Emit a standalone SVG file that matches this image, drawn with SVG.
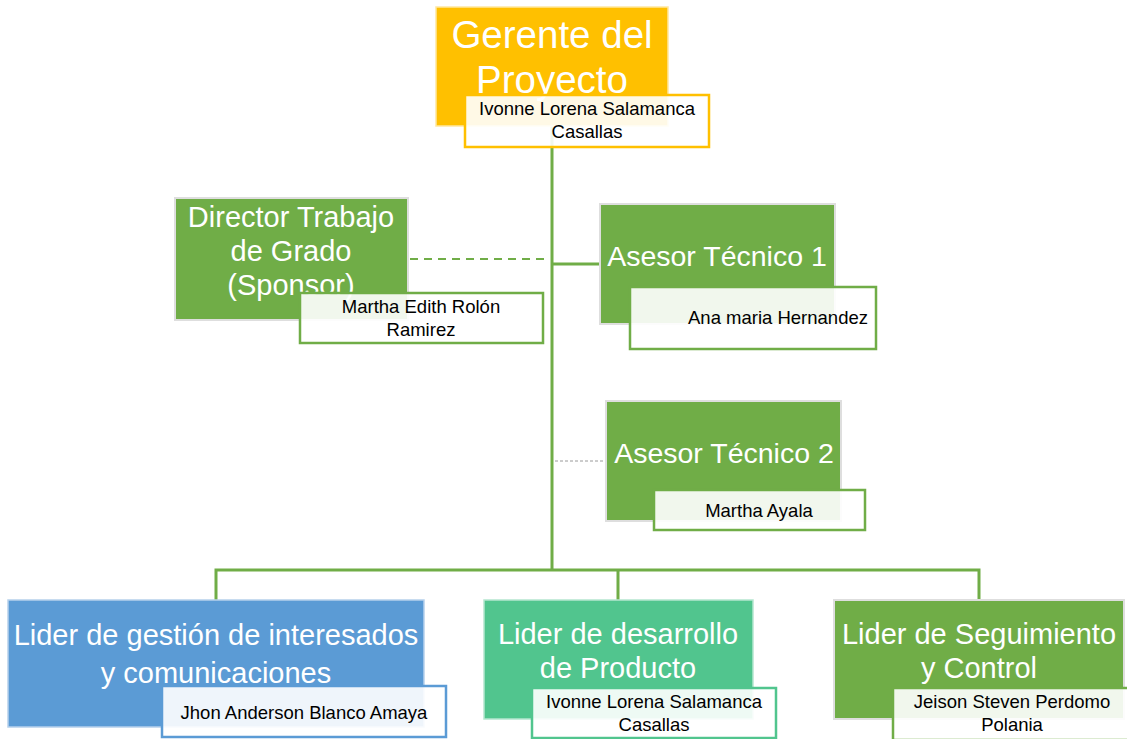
<svg xmlns="http://www.w3.org/2000/svg" width="1127" height="739" viewBox="0 0 1127 739">
<style>
.t{font-family:"Liberation Sans",Arial,sans-serif;fill:#fff;text-anchor:middle}
.n{font-family:"Liberation Sans",Arial,sans-serif;fill:#000;text-anchor:middle;font-size:18.5px}
.lbl{fill:#fff;fill-opacity:0.9;stroke-width:2.5}
.g{fill:#70AD47;stroke:#dedede;stroke-width:2}
.c{fill:none;stroke:#70AD47;stroke-width:3}
</style>
<rect width="1127" height="739" fill="#fff"/>
<g id="connectors">
<path class="c" d="M552 126V570M216 600V570H979V600M618 570V600M552 264H601"/>
<path d="M410 259H550" fill="none" stroke="#70AD47" stroke-width="2" stroke-dasharray="8 6"/>
<path d="M555 461H607" fill="none" stroke="#9a9a9a" stroke-width="1" stroke-dasharray="3 2"/>
</g>
<g id="gerente">
<rect x="436" y="7" width="232" height="119" fill="#FFC000" stroke="#ffe7a0" stroke-width="1.5"/>
<text class="t" x="552" y="48" font-size="38.5">Gerente del</text>
<text class="t" x="552" y="93" font-size="38.5">Proyecto</text>
<rect class="lbl" x="465" y="95" width="244" height="52" stroke="#FFC000"/>
<text class="n" x="587" y="115">Ivonne Lorena Salamanca</text>
<text class="n" x="587" y="138">Casallas</text>
</g>
<g id="director">
<rect class="g" x="175" y="198" width="233" height="122"/>
<text class="t" x="291" y="227" font-size="29">Director Trabajo</text>
<text class="t" x="291" y="261" font-size="29">de Grado</text>
<text class="t" x="291" y="295" font-size="29">(Sponsor)</text>
<rect class="lbl" x="300" y="293" width="243" height="50" stroke="#70AD47"/>
<text class="n" x="421" y="313">Martha Edith Rolón</text>
<text class="n" x="421" y="336">Ramirez</text>
</g>
<g id="asesor1">
<rect class="g" x="600" y="204" width="235" height="120"/>
<text class="t" x="717" y="266" font-size="28.5">Asesor Técnico 1</text>
<rect class="lbl" x="630" y="287" width="246" height="62" stroke="#70AD47"/>
<text class="n" x="778" y="324">Ana maria Hernandez</text>
</g>
<g id="asesor2">
<rect class="g" x="606" y="401" width="235" height="120"/>
<text class="t" x="724" y="463" font-size="28.5">Asesor Técnico 2</text>
<rect class="lbl" x="654" y="490" width="211" height="40" stroke="#70AD47"/>
<text class="n" x="759" y="517">Martha Ayala</text>
</g>
<g id="lider-gestion">
<rect x="8" y="600" width="416" height="127" fill="#5B9BD5" stroke="#b6d1ec" stroke-width="1.5"/>
<text class="t" x="216" y="645" font-size="29">Lider de gestión de interesados</text>
<text class="t" x="216" y="683" font-size="29">y comunicaciones</text>
<rect class="lbl" x="162" y="686" width="284" height="51" stroke="#5B9BD5"/>
<text class="n" x="304" y="719">Jhon Anderson Blanco Amaya</text>
</g>
<g id="lider-desarrollo">
<rect x="484" y="600" width="269" height="119" fill="#51C58E" stroke="#b5e6cf" stroke-width="1.5"/>
<text class="t" x="618" y="644" font-size="29">Lider de desarrollo</text>
<text class="t" x="618" y="678" font-size="29">de Producto</text>
<rect class="lbl" x="532" y="688" width="244" height="50" stroke="#51C58E"/>
<text class="n" x="654" y="708">Ivonne Lorena Salamanca</text>
<text class="n" x="654" y="731">Casallas</text>
</g>
<g id="lider-seguimiento">
<rect class="g" x="834" y="600" width="290" height="119"/>
<text class="t" x="979" y="644" font-size="29">Lider de Seguimiento</text>
<text class="t" x="979" y="678" font-size="29">y Control</text>
<rect class="lbl" x="893" y="688" width="240" height="52" stroke="#70AD47"/>
<text class="n" x="1012" y="708">Jeison Steven Perdomo</text>
<text class="n" x="1012" y="731">Polania</text>
</g>
</svg>
